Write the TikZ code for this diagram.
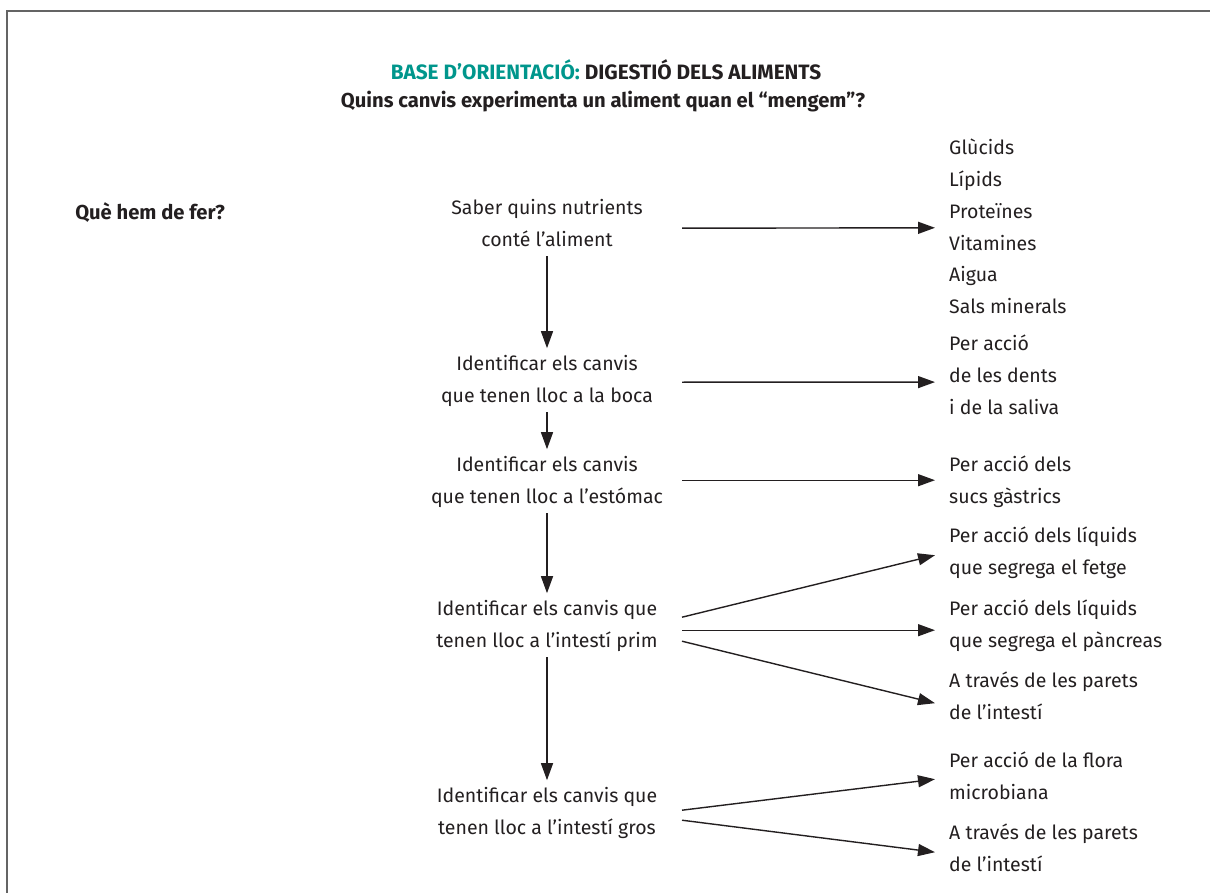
\documentclass[tikz,border=0pt]{standalone}
\usepackage{fontspec}
\setmainfont{Fira Sans}
\usetikzlibrary{arrows.meta,calc}
\definecolor{teal1}{RGB}{0,150,140}
\definecolor{ink}{RGB}{35,31,32}
\definecolor{framegray}{RGB}{100,100,100}
\newcommand{\ls}[1]{\strut#1}
\begin{document}
\begin{tikzpicture}[x=1pt,y=-1pt,
  txt/.style={inner sep=0pt,text=ink,font=\fontsize{19.5}{31.8}\selectfont},
  lbox/.style={txt,align=center,anchor=north},
  rbox/.style={txt,align=left,anchor=north west},
  arr/.style={draw=ink,line width=1.4pt,-{Triangle[length=17pt,width=12pt]}},
  frame/.style={draw=framegray,line width=1.8pt}]
\useasboundingbox (0,0) rectangle (1210,893);
\draw[frame] (7,893) -- (7,11) -- (1210,11);
\coordinate (ax) at (682,0);
% titles
\node[txt,font=\fontsize{20.8}{24}\selectfont\bfseries] (title) at (606,70)
  {\textcolor{teal1}{BASE D’ORIENTACIÓ:} DIGESTIÓ DELS ALIMENTS};
\node[txt,font=\fontsize{20.2}{24}\selectfont\bfseries] (sub) at (603,102)
  {Quins canvis experimenta un aliment quan el “mengem”?};
\node[txt,font=\fontsize{20.2}{24}\selectfont\bfseries] (que) at (150,213) {Què hem de fer?};
% left column
\node[lbox] (n1) at (547,192.2) {\ls{Saber quins nutrients}\\\ls{conté l’aliment}};
\node[lbox] (n2) at (547,348.2) {\ls{Identificar els canvis}\\\ls{que tenen lloc a la boca}};
\node[lbox] (n3) at (547,449.2) {\ls{Identificar els canvis}\\\ls{que tenen lloc a l’estómac}};
\node[lbox] (n4) at (547,593.2) {\ls{Identificar els canvis que}\\\ls{tenen lloc a l’intestí prim}};
\node[lbox] (n5) at (547,780.2) {\ls{Identificar els canvis que}\\\ls{tenen lloc a l’intestí gros}};
% right column
\node[rbox] (r1) at (949,132.2) {\ls{Glùcids}\\\ls{Lípids}\\\ls{Proteïnes}\\\ls{Vitamines}\\\ls{Aigua}\\\ls{Sals minerals}};
\node[rbox] (r2) at (949,328.2) {\ls{Per acció}\\\ls{de les dents}\\\ls{i de la saliva}};
\node[rbox] (r3) at (949,449.2) {\ls{Per acció dels}\\\ls{sucs gàstrics}};
\node[rbox] (r4) at (949,520.2) {\ls{Per acció dels líquids}\\\ls{que segrega el fetge}};
\node[rbox] (r5) at (949,593.2) {\ls{Per acció dels líquids}\\\ls{que segrega el pàncreas}};
\node[rbox] (r6) at (949,665.2) {\ls{A través de les parets}\\\ls{de l’intestí}};
\node[rbox] (r7) at (949,745.2) {\ls{Per acció de la flora}\\\ls{microbiana}};
\node[rbox] (r8) at (949,817.2) {\ls{A través de les parets}\\\ls{de l’intestí}};
% vertical arrows
\draw[arr] (n1.south) -- (n2.north);
\draw[arr] (n2.south) -- (n3.north);
\draw[arr] (n3.south) -- (n4.north);
\draw[arr] (n4.south) -- (n5.north);
% horizontal arrows
\draw[arr] ($(n1.center-|ax)+(0,4)$) -- ($(r1.west)+(-14,0)$);
\draw[arr] ($(n2.center-|ax)+(0,2)$) -- ($(r2.west)+(-14,6)$);
\draw[arr] ($(n3.center-|ax)+(0,-1)$) -- ($(r3.west)+(-14,-1)$);
\draw[arr] ($(n4.center-|ax)+(0,-8)$) -- ($(r4.west)+(-14,3)$);
\draw[arr] ($(n4.center-|ax)+(0,5)$) -- ($(r5.west)+(-14,5)$);
\draw[arr] ($(n4.center-|ax)+(0,16)$) -- ($(r6.west)+(-14,6)$);
\draw[arr] ($(n5.center-|ax)+(0,-2)$) -- ($(r7.west)+(-14,2)$);
\draw[arr] ($(n5.center-|ax)+(0,8)$) -- ($(r8.west)+(-14,3)$);
\end{tikzpicture}
\end{document}
